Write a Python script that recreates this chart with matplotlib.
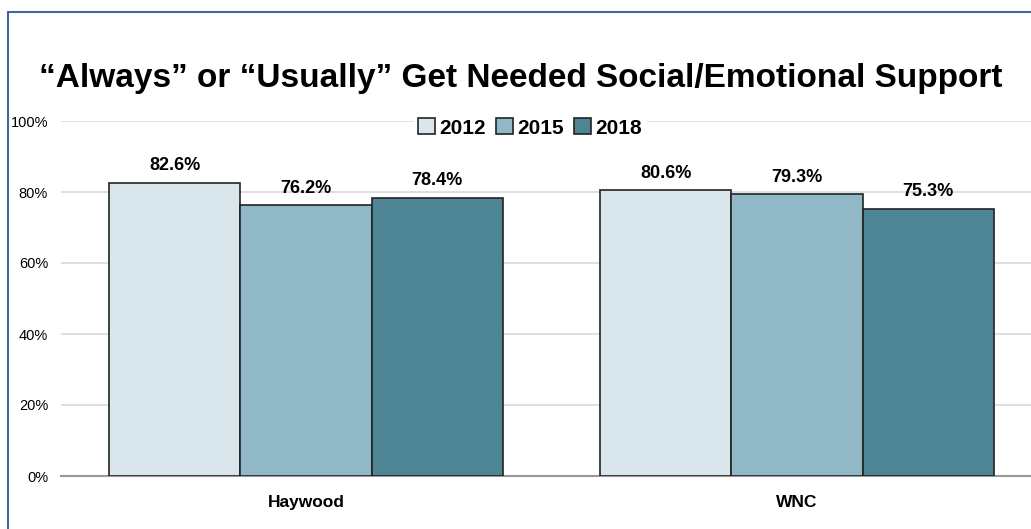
import matplotlib
matplotlib.use("Agg")
from matplotlib import pyplot as plt
from matplotlib.patches import Rectangle
import numpy as np

# data
regions = ['Haywood', 'WNC']
years = ['2012', '2015', '2018']
values_2012 = [82.6, 80.6]
values_2015 = [76.2, 79.3]
values_2018 = [78.4, 75.3]
y_ticks = [0, 20, 40, 60, 80, 100]

colors = ['#D9E7EC', '#90B8C6', '#4E8594']
plt.rcParams['font.family'] = ['Liberation Sans', 'DejaVu Sans']

fig = plt.figure(figsize=(10.31, 5.29), dpi=100)

# blue frame around the chart (cut by the right and bottom edges)
fig.patches.append(Rectangle((8 / 1031, -0.05), 1.2, 1 - 12 / 529 + 0.05,
                             transform=fig.transFigure, fill=False,
                             edgecolor='#3F66A3', linewidth=1.5))

ax = fig.add_axes([60.5 / 1031, 53 / 529, 982 / 1031, 355 / 529])

x = np.arange(len(regions))
width = 0.267
series = [values_2012, values_2015, values_2018]
for i, (vals, year) in enumerate(zip(series, years)):
    bars = ax.bar(x + (i - 1) * width, vals, width, color=colors[i],
                  edgecolor='#222222', linewidth=1.2, label=year, zorder=3)
    for b, v in zip(bars, vals):
        ax.annotate(f'{v:.1f}%', (b.get_x() + b.get_width() / 2, v),
                    xytext=(0, 6), textcoords='offset points',
                    ha='center', va='bottom', fontsize=13,
                    fontweight='bold', zorder=4)

ax.set_xlim(-0.5, 1.5)
ax.set_ylim(0, 100)
ax.set_yticks(y_ticks)
ax.set_yticklabels([f'{t}%' for t in y_ticks], fontsize=10.5)
ax.set_xticks(x)
ax.set_xticklabels(regions, fontsize=12.5, fontweight='bold')
ax.tick_params(axis='both', length=0)
ax.tick_params(axis='x', pad=14)
ax.tick_params(axis='y', pad=9)
ax.grid(axis='y', color='#D9D9D9', linewidth=1.2, zorder=0)
for s in ['top', 'right', 'left']:
    ax.spines[s].set_visible(False)
ax.spines['bottom'].set_color('#999999')
ax.spines['bottom'].set_linewidth(1.5)

leg = ax.legend(loc='center', bbox_to_anchor=(530 / 1031, 1 - 128 / 529),
                bbox_transform=fig.transFigure, ncol=3, frameon=True,
                fancybox=False, edgecolor='white', framealpha=1,
                prop={'size': 15, 'weight': 'bold'},
                handlelength=0.8, handleheight=0.8, handletextpad=0.2,
                columnspacing=0.5, borderpad=0.2)
leg.set_zorder(5)

fig.text(521 / 1031, 1 - 78 / 529,
         '\u201cAlways\u201d or \u201cUsually\u201d Get Needed Social/Emotional Support',
         ha='center', va='center', fontsize=24, fontweight='bold')

fig.savefig('out.png', dpi=100)
